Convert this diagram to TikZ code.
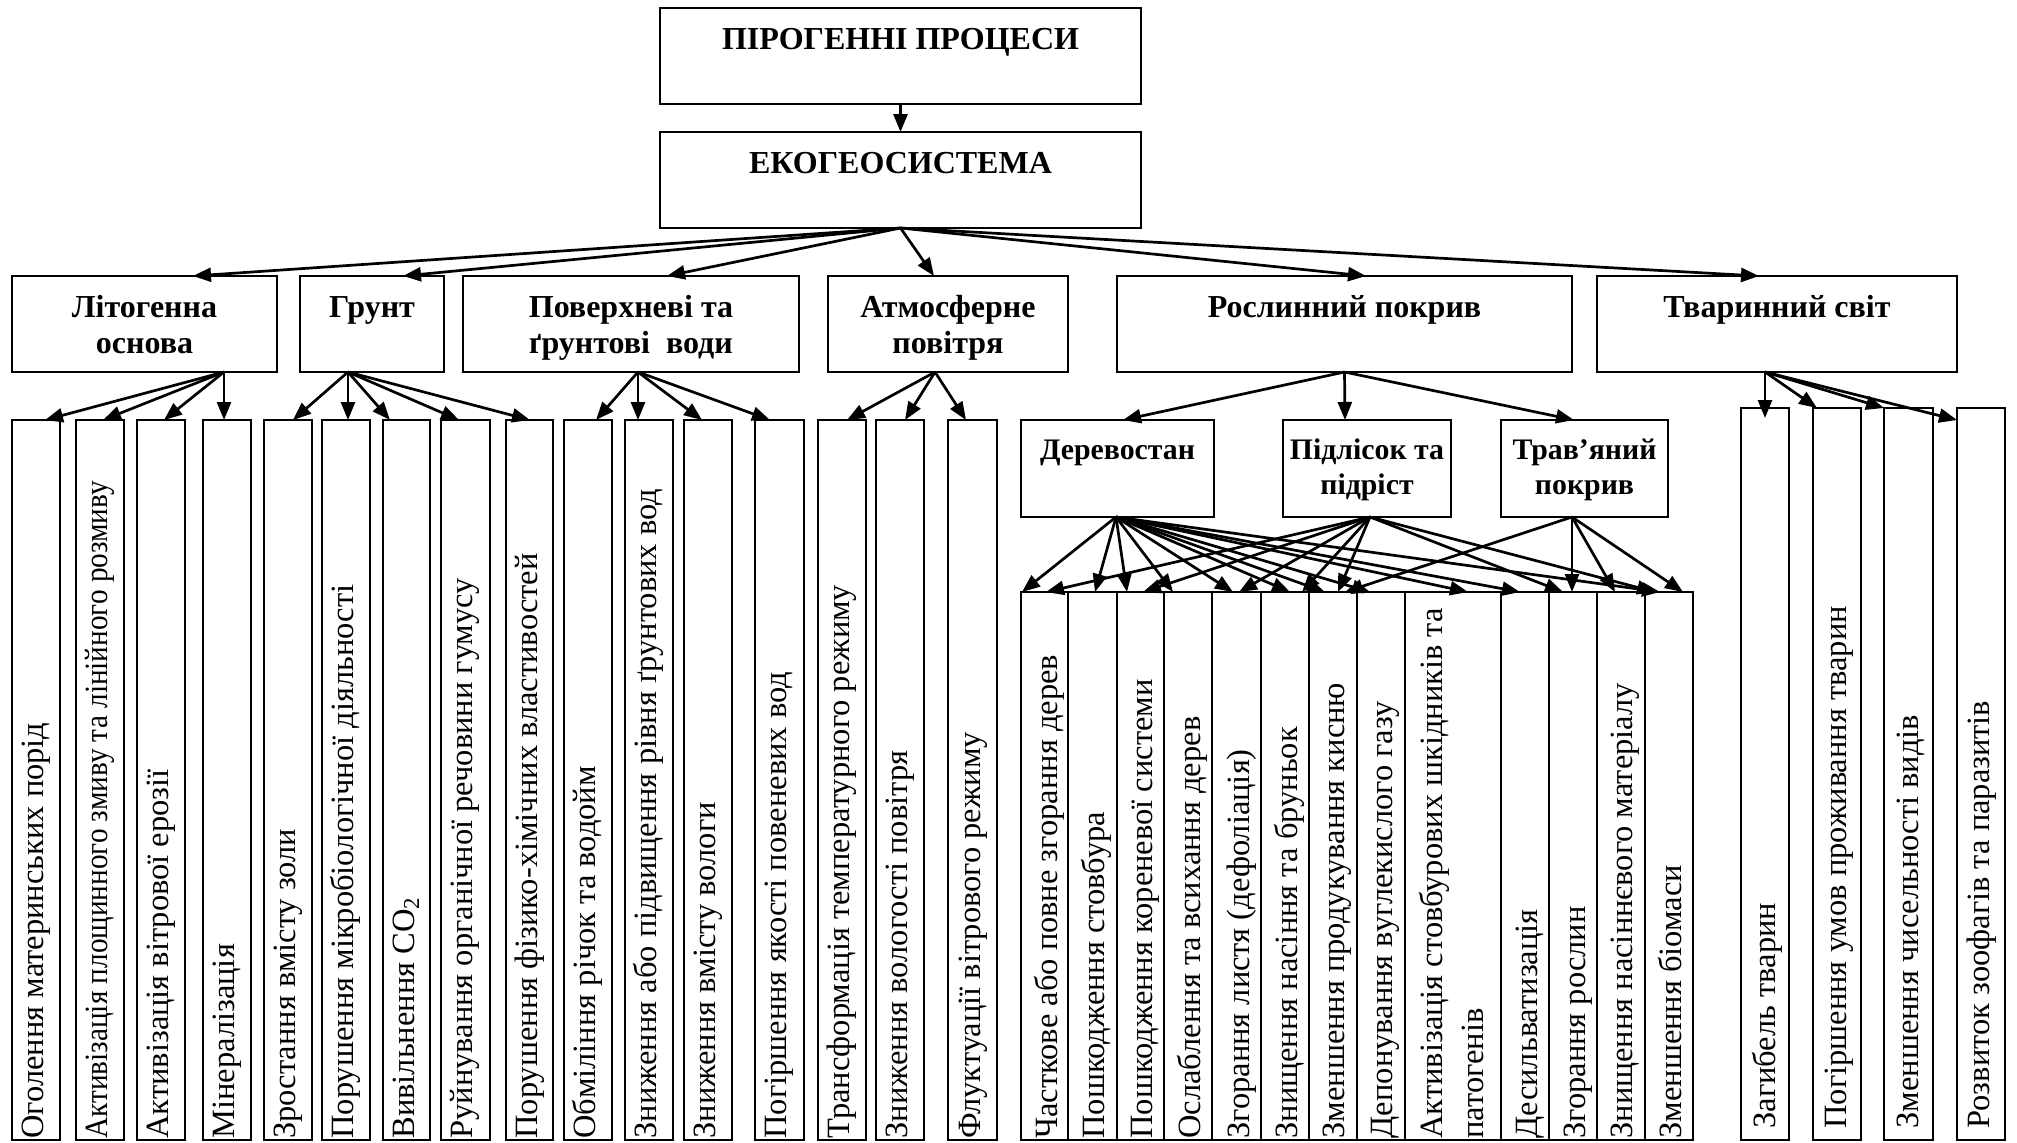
\documentclass[tikz,border=0pt]{standalone}
\usepackage{fontspec}
\setmainfont{Liberation Serif}
\usetikzlibrary{arrows.meta}
\tikzset{
 boxst/.style={draw, line width=1.15pt, inner sep=0pt, outer sep=0pt},
 arr/.style={-{Triangle[length=9pt,width=7pt]}, line width=1.35pt},
 hd/.style={font=\bfseries\fontsize{16}{18}\selectfont, inner sep=0pt, anchor=base},
 hds/.style={font=\bfseries\fontsize{14.9}{18}\selectfont, inner sep=0pt, anchor=base},
 vt/.style={font=\fontsize{16.25}{18}\selectfont, inner sep=0pt, rotate=90, anchor=base west},
}
\newcommand\bxx[5]{\node[boxst, minimum width={(#4-(#2))*0.5pt}, minimum height={(#5-(#3))*0.5pt}] (#1) at ({(#2+#4)/2},{(#3+#5)/2}) {};}
\begin{document}
\begin{tikzpicture}[x=0.5pt,y=-0.5pt]
\useasboundingbox (0,0) rectangle (2017,1142);
% boxes
\bxx{top}{660}{8}{1141}{104}
\bxx{eko}{660}{132}{1141}{228}
\bxx{lito}{12}{276}{277}{372}
\bxx{grunt}{300}{276}{444}{372}
\bxx{voda}{463}{276}{799}{372}
\bxx{atm}{828}{276}{1068}{372}
\bxx{rosl}{1117}{276}{1572}{372}
\bxx{tvar}{1597}{276}{1957}{372}
\bxx{der}{1021}{420}{1214}{517}
\bxx{pidl}{1283}{420}{1451}{517}
\bxx{trav}{1501}{420}{1668}{517}
\bxx{v1}{12}{420}{60}{1140}
\bxx{v2}{76}{420}{124}{1140}
\bxx{v3}{137}{420}{185}{1140}
\bxx{v4}{203}{420}{251}{1140}
\bxx{v5}{264}{420}{312}{1140}
\bxx{v6}{322}{420}{370}{1140}
\bxx{v7}{383}{420}{430}{1140}
\bxx{v8}{441}{420}{490}{1140}
\bxx{v9}{506}{420}{553}{1140}
\bxx{v10}{564}{420}{612}{1140}
\bxx{v11}{625}{420}{673}{1140}
\bxx{v12}{684}{420}{732}{1140}
\bxx{v13}{755}{420}{804}{1140}
\bxx{v14}{818}{420}{866}{1140}
\bxx{v15}{876}{420}{924}{1140}
\bxx{v16}{948}{420}{997}{1140}
\bxx{p1}{1021}{592}{1068}{1140}
\bxx{p2}{1068}{592}{1117}{1140}
\bxx{p3}{1117}{592}{1164}{1140}
\bxx{p4}{1164}{592}{1212}{1140}
\bxx{p5}{1212}{592}{1261}{1140}
\bxx{p6}{1261}{592}{1309}{1140}
\bxx{p7}{1309}{592}{1357}{1140}
\bxx{p8}{1357}{592}{1405}{1140}
\bxx{p9}{1405}{592}{1501}{1140}
\bxx{p10}{1501}{592}{1549}{1140}
\bxx{p11}{1549}{592}{1597}{1140}
\bxx{p12}{1597}{592}{1645}{1140}
\bxx{p13}{1645}{592}{1693}{1140}
\bxx{a1}{1741}{408}{1789}{1140}
\bxx{a2}{1813}{408}{1861}{1140}
\bxx{a3}{1884}{408}{1933}{1140}
\bxx{a4}{1957}{408}{2005}{1140}
% headings
\node[hd] (topt) at (900.5,49) {ПІРОГЕННІ ПРОЦЕСИ};
\node[hd] (ekot) at (900.5,173) {ЕКОГЕОСИСТЕМА};
\node[hd] (litot1) at (144.5,317) {Літогенна};
\node[hd] (litot2) at (144.5,353) {основа};
\node[hd] (gruntt) at (372,317) {Грунт};
\node[hd] (vodat1) at (631,317) {Поверхневі та};
\node[hd] (vodat2) at (631,353) {ґрунтові\ \ води};
\node[hd] (atmt1) at (948,317) {Атмосферне};
\node[hd] (atmt2) at (948,353) {повітря};
\node[hd] (roslt) at (1344.5,317) {Рослинний покрив};
\node[hd] (tvart) at (1777,317) {Тваринний світ};
\node[hds] (dert) at (1117.5,459) {Деревостан};
\node[hds] (pidlt1) at (1367,459) {Підлісок та};
\node[hds] (pidlt2) at (1367,494) {підріст};
\node[hds] (travt1) at (1584.5,459) {Трав’яний};
\node[hds] (travt2) at (1584.5,494) {покрив};
% vertical texts
\node[vt] (v1t) at (43,1139) {Оголення материнських порід};
\node[vt] (v2t) at (107,1139) {\scalebox{0.90}[1]{Активізація площинного змиву та лінійного розмиву}};
\node[vt] (v3t) at (168,1139) {Активізація вітрової ерозії};
\node[vt] (v4t) at (234,1139) {Мінералізація};
\node[vt] (v5t) at (295,1139) {Зростання вмісту золи};
\node[vt] (v6t) at (353,1139) {Порушення мікробіологічної діяльності};
\node[vt] (v7t) at (414,1139) {Вивільнення CO\textsubscript{2}};
\node[vt] (v8t) at (472,1139) {Руйнування органічної речовини гумусу};
\node[vt] (v9t) at (537,1139) {Порушення фізико-хімічних властивостей};
\node[vt] (v10t) at (595,1139) {Обміління річок та водойм};
\node[vt] (v11t) at (656,1139) {Зниження або підвищення рівня ґрунтових вод};
\node[vt] (v12t) at (715,1139) {Зниження вмісту вологи};
\node[vt] (v13t) at (786,1139) {Погіршення якості повеневих вод};
\node[vt] (v14t) at (849,1139) {Трансформація температурного режиму};
\node[vt] (v15t) at (907,1139) {Зниження вологості повітря};
\node[vt] (v16t) at (980,1139) {Флуктуації вітрового режиму};
\node[vt] (p1t) at (1057,1139) {Часткове або повне згорання дерев};
\node[vt] (p2t) at (1104,1139) {Пошкодження стовбура};
\node[vt] (p3t) at (1152,1139) {Пошкодження кореневої системи};
\node[vt] (p4t) at (1200,1139) {Ослаблення та всихання дерев};
\node[vt] (p5t) at (1249,1139) {Згорання листя (дефоліація)};
\node[vt] (p6t) at (1297,1139) {Знищення насіння та бруньок};
\node[vt] (p7t) at (1344,1139) {Зменшення продукування кисню};
\node[vt] (p8t) at (1392,1139) {Депонування вуглекислого газу};
\node[vt] (p9t1) at (1442,1139) {Активізація стовбурових шкідників та};
\node[vt] (p9t2) at (1483,1139) {патогенів};
\node[vt] (p10t) at (1537,1139) {Десильватизація};
\node[vt] (p11t) at (1585,1139) {Згорання рослин};
\node[vt] (p12t) at (1632,1139) {Знищення насіннєвого матеріалу};
\node[vt] (p13t) at (1681,1139) {Зменшення біомаси};
\node[vt] (a1t) at (1775,1129) {Загибель тварин};
\node[vt] (a2t) at (1846,1129) {Погіршення умов проживання тварин};
\node[vt] (a3t) at (1918,1129) {Зменшення чисельності видів};
\node[vt] (a4t) at (1989,1129) {Розвиток зоофагів та паразитів};
% connectors
\draw[arr] (top.south) -- (eko.north);
\foreach \n/\x in {lito/193, grunt/403, voda/667, atm/934, rosl/1366, tvar/1759}
  \draw[arr] (eko.south) -- (\n.north -| \x,0);
\foreach \n/\x in {v1/45, v2/103, v3/164, v4/224}
  \draw[arr] (lito.south -| 224,0) -- (\n.north -| \x,0);
\foreach \n/\x in {v5/293, v6/348, v7/390, v8/459, v9/530}
  \draw[arr] (grunt.south -| 348,0) -- (\n.north -| \x,0);
\foreach \n/\x in {v10/596, v11/638, v12/702, v13/770}
  \draw[arr] (voda.south -| 638,0) -- (\n.north -| \x,0);
\foreach \n/\x in {v14/847, v15/905, v16/966}
  \draw[arr] (atm.south -| 935,0) -- (\n.north -| \x,0);
\foreach \n/\x in {der/1123, pidl/1345, trav/1574}
  \draw[arr] (rosl.south) -- (\n.north -| \x,0);
\foreach \n/\x in {p1/1022, p2/1095, p3/1127, p4/1173, p5/1233, p6/1290, p7/1325, p8/1370, p9/1468, p10/1520, p13/1660}
  \draw[arr] (der.south -| 1116,0) -- (\n.north -| \x,0);
\foreach \n/\x in {p1/1046, p3/1143, p5/1239, p6/1302, p7/1338, p11/1563, p13/1655}
  \draw[arr] (pidl.south -| 1370,0) -- (\n.north -| \x,0);
\foreach \n/\x in {p7/1345, p11/1572, p12/1615, p13/1683}
  \draw[arr] (trav.south -| 1572,0) -- (\n.north -| \x,0);
\draw[arr] (tvar.south -| 1765,0) -- (a1.north |- 0,418);
\draw[arr] (tvar.south -| 1765,0) -- (a2.north -| 1817,0);
\draw[arr] (tvar.south -| 1765,0) -- (a3.north west);
\draw[arr] (tvar.south -| 1765,0) -- (a4.west |- 0,420);
\end{tikzpicture}
\end{document}
